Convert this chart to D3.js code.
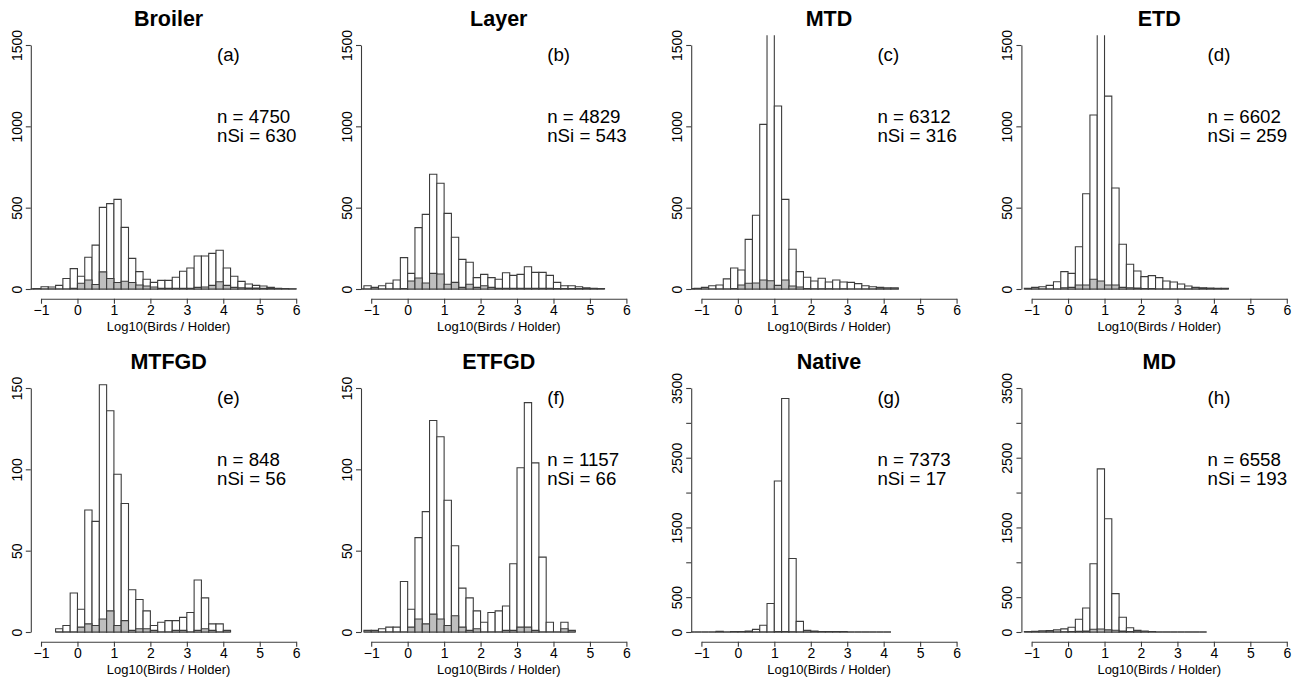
<!DOCTYPE html>
<html>
<head>
<meta charset="utf-8">
<script src="https://cdnjs.cloudflare.com/ajax/libs/d3/7.8.5/d3.min.js"></script>
<style>
  body { margin: 0; background: #fff; }
  text { font-family: "Liberation Sans", Arial, sans-serif; fill: #000; }
</style>
</head>
<body>
<div id="chart"></div>
<script>
// histogram counts, bins of width 0.2 starting at the given break
const binWidth = 0.2;
const xTicks = [-1, 0, 1, 2, 3, 4, 5, 6];

const broilerStart = -1.4;
const broilerAll = [1, 2, 14, 12, 22, 65, 125, 78, 195, 270, 502, 525, 551, 379, 188, 107, 60, 41, 53, 53, 72, 109, 129, 203, 203, 219, 238, 129, 78, 47, 31, 22, 18, 10, 4, 2, 1];
const broilerSi = [0, 0, 0, 0, 0, 0, 5, 35, 55, 28, 105, 65, 40, 48, 40, 25, 18, 12, 5, 4, 4, 4, 5, 10, 12, 22, 45, 22, 10, 8, 6, 6, 4, 4, 0, 0, 0];

const layerStart = -1.4;
const layerAll = [0, 20, 10, 20, 35, 55, 193, 96, 377, 459, 705, 650, 465, 318, 182, 164, 70, 90, 70, 60, 100, 84, 90, 137, 102, 102, 84, 41, 20, 20, 14, 8, 4, 2];
const layerSi = [0, 0, 0, 0, 0, 0, 3, 49, 68, 37, 96, 92, 29, 41, 10, 29, 10, 20, 10, 5, 5, 4, 4, 5, 4, 4, 4, 3, 3, 3, 3, 2, 0, 0];

const mtdStart = -1.4;
const mtdAll = [2, 4, 10, 20, 25, 62, 129, 117, 305, 453, 1012, 1686, 1125, 551, 244, 107, 72, 49, 66, 43, 55, 43, 41, 33, 20, 14, 10, 8, 8];
const mtdSi = [0, 0, 0, 0, 0, 0, 2, 25, 35, 37, 55, 51, 22, 55, 18, 12, 2, 1, 1, 1, 0, 1, 0, 0, 0, 0, 1, 0, 1];

const etdStart = -1.2;
const etdAll = [4, 10, 14, 22, 45, 107, 96, 260, 586, 1070, 1642, 1186, 621, 275, 152, 111, 76, 82, 70, 49, 43, 31, 18, 10, 8, 6, 4, 4];
const etdSi = [0, 0, 0, 0, 0, 8, 10, 25, 25, 60, 49, 25, 25, 10, 8, 6, 2, 2, 0, 0, 0, 0, 0, 0, 4, 0, 0, 0];

const mtfgdStart = -0.6;
const mtfgdAll = [2, 4, 24, 14, 75, 68, 152, 136, 97, 79, 26, 20, 13, 4, 6, 7, 7, 9, 12, 32, 21, 5, 5, 1];
const mtfgdSi = [0, 0, 0, 3, 5, 4, 8, 13, 4, 7, 1, 2, 2, 1, 0, 0, 1, 1, 0, 1, 2, 1, 0, 0];

const etfgdStart = -1.2;
const etfgdAll = [1, 1, 2, 3, 3, 31, 14, 58, 74, 130, 120, 81, 53, 27, 21, 13, 6, 12, 13, 16, 42, 101, 141, 104, 46, 6, 0, 6, 1];
const etfgdSi = [0, 0, 0, 0, 0, 0, 3, 8, 5, 11, 8, 4, 10, 3, 1, 2, 0, 0, 0, 1, 1, 3, 3, 1, 0, 0, 0, 2, 0];

const nativeStart = -1.4;
const nativeAll = [0, 0, 0, 0, 10, 0, 8, 8, 12, 38, 96, 408, 2165, 3350, 1055, 153, 24, 14, 8, 8, 6, 6, 0, 0, 0, 0, 0, 0];
const nativeSi = [0, 0, 0, 0, 0, 0, 0, 0, 0, 0, 0, 1, 5, 8, 3, 0, 0, 0, 0, 0, 0, 0, 0, 0, 0, 0, 0, 0];

const mdStart = -1.2;
const mdAll = [6, 10, 18, 20, 30, 45, 68, 182, 345, 978, 2340, 1625, 551, 211, 62, 24, 12, 6, 0, 0, 0, 0, 0, 0, 0];
const mdSi = [0, 0, 0, 0, 0, 3, 5, 10, 15, 40, 42, 30, 25, 12, 6, 3, 2, 0, 0, 0, 0, 0, 0, 0, 0];

const titles = ["Broiler", "Layer", "MTD", "ETD", "MTFGD", "ETFGD", "Native", "MD"];
const letters = ["(a)", "(b)", "(c)", "(d)", "(e)", "(f)", "(g)", "(h)"];
const nTotal = [4750, 4829, 6312, 6602, 848, 1157, 7373, 6558];
const nSi = [630, 543, 316, 259, 56, 66, 17, 193];
const yMax = [1500, 1500, 1500, 1500, 150, 150, 3500, 3500];
const yTicksSmall = [0, 50, 100, 150];
const yTicksMid = [0, 500, 1000, 1500];
const yTicksBig = [0, 500, 1000, 1500, 2000, 2500, 3000, 3500];
const yLabelsBig = [0, 500, 1500, 2500, 3500];

const starts = [broilerStart, layerStart, mtdStart, etdStart, mtfgdStart, etfgdStart, nativeStart, mdStart];
const allCounts = [broilerAll, layerAll, mtdAll, etdAll, mtfgdAll, etfgdAll, nativeAll, mdAll];
const siCounts = [broilerSi, layerSi, mtdSi, etdSi, mtfgdSi, etfgdSi, nativeSi, mdSi];
const yTickSets = [yTicksMid, yTicksMid, yTicksMid, yTicksMid, yTicksSmall, yTicksSmall, yTicksBig, yTicksBig];

const width = 1311, height = 684;
const colStep = 330.2, rowStep = 343;
const plotLeft = 30.8, plotRight = 306.4, plotTop = 35.24, plotBottom = 298.76;
const lineColor = "#3c3c3c";

const svg = d3.select("#chart").append("svg")
  .attr("width", width)
  .attr("height", height)
  .style("background", "#fff");

const x = d3.scaleLinear().domain([-1.28, 6.28]).range([plotLeft, plotRight]);

titles.forEach((title, i) => {
  const col = i % 4, row = Math.floor(i / 4);
  const g = svg.append("g")
    .attr("transform", `translate(${col * colStep}, ${row * rowStep})`);

  const ym = yMax[i];
  const y = d3.scaleLinear().domain([-0.04 * ym, 1.04 * ym]).range([plotBottom, plotTop]);

  const clipId = "clip" + i;
  g.append("clipPath").attr("id", clipId)
    .append("rect")
    .attr("x", plotLeft).attr("y", plotTop)
    .attr("width", plotRight - plotLeft).attr("height", plotBottom - plotTop);

  const toBins = arr => arr.map((c, k) => ({ x0: starts[i] + k * binWidth, x1: starts[i] + (k + 1) * binWidth, c: c }));

  // bars as closed paths so empty bins still leave their outline on the baseline
  const bars = g.append("g").attr("clip-path", `url(#${clipId})`);
  [[toBins(allCounts[i]), "#ffffff"], [toBins(siCounts[i]), "#bebebe"]].forEach(([bins, fill]) => {
    bars.selectAll(null)
      .data(bins)
      .enter()
      .append("path")
      .attr("d", d => `M${x(d.x0)},${y(0)}H${x(d.x1)}V${y(d.c)}H${x(d.x0)}Z`)
      .style("fill", fill)
      .style("stroke", lineColor)
      .style("stroke-width", 1.1);
  });

  // x axis, line only from -1 to 6
  const xa = x.copy().domain([-1, 6]).range([x(-1), x(6)]);
  const xAxis = g.append("g")
    .attr("transform", `translate(0, ${plotBottom})`)
    .call(d3.axisBottom(xa).tickValues(xTicks).tickSize(5).tickSizeOuter(0).tickFormat(d3.format("d")));
  xAxis.selectAll("text").attr("y", 16.5).attr("dy", 0).style("font-size", "14px");

  // y axis
  const ya = y.copy().domain([0, ym]).range([y(0), y(ym)]);
  const labelled = ym === 3500 ? yLabelsBig : yTickSets[i];
  const yAxis = g.append("g")
    .attr("transform", `translate(${plotLeft}, 0)`)
    .call(d3.axisLeft(ya).tickValues(yTickSets[i]).tickSize(5).tickSizeOuter(0)
      .tickFormat(d => labelled.includes(d) ? String(d) : ""));
  yAxis.selectAll("text")
    .attr("transform", "rotate(-90)")
    .attr("x", 0).attr("y", -9.3).attr("dy", 0)
    .attr("text-anchor", "middle")
    .style("font-size", "14px");

  [xAxis, yAxis].forEach(a => {
    a.selectAll("path, line").style("stroke", lineColor).style("stroke-width", 1.1);
    a.selectAll("text").style("fill", "#000").style("font-family", "'Liberation Sans', Arial, sans-serif");
  });

  g.append("text")
    .attr("x", (plotLeft + plotRight) / 2).attr("y", 331)
    .attr("text-anchor", "middle")
    .style("font-size", "13px")
    .text("Log10(Birds / Holder)");

  g.append("text")
    .attr("x", (plotLeft + plotRight) / 2).attr("y", 26)
    .attr("text-anchor", "middle")
    .style("font-size", "21.5px").style("font-weight", "bold")
    .text(title);

  g.append("text").attr("x", 217).attr("y", 60.5)
    .style("font-size", "18.7px").text(letters[i]);
  g.append("text").attr("x", 217).attr("y", 122.7)
    .style("font-size", "18.7px").text(`n = ${nTotal[i]}`);
  g.append("text").attr("x", 217).attr("y", 141.7)
    .style("font-size", "18.7px").text(`nSi = ${nSi[i]}`);
});
</script>
</body>
</html>
